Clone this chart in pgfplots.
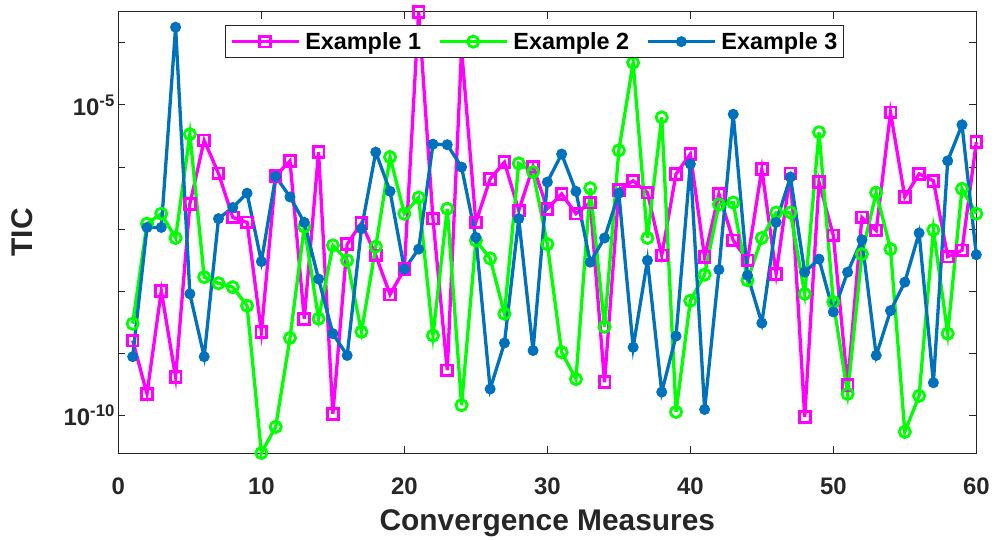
\documentclass[border=0pt]{standalone}
\usepackage{fontspec}
\setmainfont{Liberation Sans}
\usepackage{pgfplots}
\pgfplotsset{compat=1.18}
\definecolor{ex1}{RGB}{255,0,255}
\definecolor{ex2}{RGB}{0,255,0}
\definecolor{ex3}{RGB}{0,114,189}
\definecolor{axgray}{RGB}{38,38,38}
\begin{document}
\begin{tikzpicture}
\begin{axis}[
 scale only axis, width=857.9bp, height=441.3bp,
 xmin=0, xmax=60, ymode=log, ymin=2.512e-11, ymax=3.162e-4,
 clip=false,
 xtick={0,10,...,60},
 ytick={1e-10,1e-9,1e-8,1e-7,1e-6,1e-5,1e-4},
 yticklabels={10\textsuperscript{-10},,,,,10\textsuperscript{-5},},
 yminorticks=false,
 axis line style={axgray, line width=0.9bp},
 major tick style={axgray, line width=0.9bp},
 major tick length=7bp,
 tick align=inside,
 /pgf/number format/assume math mode=true,
 tick label style={font=\fontsize{24}{28}\selectfont\bfseries, text=axgray},
 xticklabel style={anchor=base, yshift=-41bp},
 xlabel={Convergence Measures}, ylabel={TIC},
 label style={font=\fontsize{30}{34}\selectfont\bfseries, text=axgray},
 xlabel style={at={(axis description cs:0.5,-0.1745)}, anchor=base},
 ylabel style={at={(axis description cs:-0.1118,0.5)}, anchor=center},
 legend columns=3,
 legend style={at={(0.1243,0.9699)}, anchor=north west, draw=axgray, line width=0.9bp, fill=white,
   inner xsep=4.5bp, inner ysep=5bp, font=\fontsize{23.5}{27}\selectfont\bfseries,
   /tikz/every odd column/.append style={column sep=3bp},
   /tikz/every even column/.append style={column sep=15bp}},
 legend image code/.code={\draw[mark repeat=2,mark phase=2,#1] plot coordinates {(0bp,0bp) (33.5bp,0bp) (67bp,0bp)};},
]
\addplot[ex1, line width=3.3bp, mark=square, mark size=5.4bp, mark options={solid, line width=2.8bp}] coordinates {
(1,1.62e-9) (2,2.24e-10) (3,1.02e-8) (4,4.17e-10) (5,2.57e-7) (6,2.69e-6) (7,7.94e-7) (8,1.55e-7) (9,1.29e-7) (10,2.24e-9)
(11,7.24e-7) (12,1.26e-6) (13,3.63e-9) (14,1.74e-6) (15,1.07e-10) (16,5.75e-8) (17,1.26e-7) (18,3.80e-8) (19,8.91e-9) (20,2.29e-8)
(21,3.16e-4) (22,1.48e-7) (23,5.37e-10) (24,7.94e-5) (25,1.29e-7) (26,6.46e-7) (27,1.20e-6) (28,2.00e-7) (29,1.02e-6) (30,2.14e-7)
(31,3.72e-7) (32,1.78e-7) (33,2.69e-7) (34,3.47e-10) (35,4.27e-7) (36,6.03e-7) (37,3.89e-7) (38,3.80e-8) (39,7.76e-7) (40,1.62e-6)
(41,3.55e-8) (42,3.72e-7) (43,6.61e-8) (44,3.16e-8) (45,9.33e-7) (46,1.91e-8) (47,7.94e-7) (48,9.55e-11) (49,5.75e-7) (50,7.94e-8)
(51,3.09e-10) (52,1.55e-7) (53,9.55e-8) (54,7.59e-6) (55,3.31e-7) (56,7.76e-7) (57,6.03e-7) (58,3.63e-8) (59,4.57e-8) (60,2.51e-6)
};
\addplot[ex2, line width=3.3bp, mark=o, mark size=5.6bp, mark options={solid, line width=2.8bp}] coordinates {
(1,3.02e-9) (2,1.23e-7) (3,1.78e-7) (4,7.24e-8) (5,3.39e-6) (6,1.70e-8) (7,1.35e-8) (8,1.17e-8) (9,5.89e-9) (10,2.51e-11)
(11,6.61e-11) (12,1.78e-9) (13,1.10e-7) (14,3.63e-9) (15,5.50e-8) (16,3.16e-8) (17,2.24e-9) (18,5.25e-8) (19,1.45e-6) (20,1.78e-7)
(21,3.24e-7) (22,1.95e-9) (23,2.14e-7) (24,1.48e-10) (25,6.61e-8) (26,3.39e-8) (27,4.37e-9) (28,1.15e-6) (29,8.32e-7) (30,5.75e-8)
(31,1.05e-9) (32,3.89e-10) (33,4.57e-7) (34,2.69e-9) (35,1.86e-6) (36,4.79e-5) (37,7.24e-8) (38,6.31e-6) (39,1.15e-10) (40,7.08e-9)
(41,1.86e-8) (42,2.51e-7) (43,2.69e-7) (44,1.51e-8) (45,7.24e-8) (46,1.86e-7) (47,1.86e-7) (48,9.12e-9) (49,3.63e-6) (50,6.76e-9)
(51,2.24e-10) (52,3.98e-8) (53,3.89e-7) (54,4.79e-8) (55,5.50e-11) (56,2.09e-10) (57,9.77e-8) (58,2.09e-9) (59,4.47e-7) (60,1.78e-7)
};
\addplot[ex3, line width=3.3bp, mark=*, mark size=5bp, mark options={solid, line width=1bp}] coordinates {
(1,8.91e-10) (2,1.07e-7) (3,1.07e-7) (4,1.78e-4) (5,9.12e-9) (6,8.91e-10) (7,1.48e-7) (8,2.24e-7) (9,3.80e-7) (10,3.02e-8)
(11,7.08e-7) (12,3.31e-7) (13,1.29e-7) (14,1.58e-8) (15,2.09e-9) (16,9.33e-10) (17,1.02e-7) (18,1.74e-6) (19,4.07e-7) (20,2.29e-8)
(21,4.79e-8) (22,2.34e-6) (23,2.29e-6) (24,1.00e-6) (25,7.41e-8) (26,2.69e-10) (27,1.48e-9) (28,1.48e-7) (29,1.12e-9) (30,5.75e-7)
(31,1.62e-6) (32,4.07e-7) (33,2.95e-8) (34,7.24e-8) (35,3.80e-7) (36,1.26e-9) (37,3.16e-8) (38,2.40e-10) (39,1.91e-9) (40,1.12e-6)
(41,1.26e-10) (42,2.24e-8) (43,7.08e-6) (44,1.82e-8) (45,3.09e-9) (46,1.29e-7) (47,6.92e-7) (48,2.04e-8) (49,3.31e-8) (50,4.68e-9)
(51,2.04e-8) (52,6.76e-8) (53,9.33e-10) (54,4.90e-9) (55,1.41e-8) (56,8.71e-8) (57,3.39e-10) (58,1.26e-6) (59,4.79e-6) (60,3.89e-8)
};
\legend{Example 1, Example 2, Example 3}
\end{axis}
\pgfresetboundingbox
\path (-118.4bp,-87bp) rectangle (876.6bp,453bp);
\end{tikzpicture}
\end{document}
